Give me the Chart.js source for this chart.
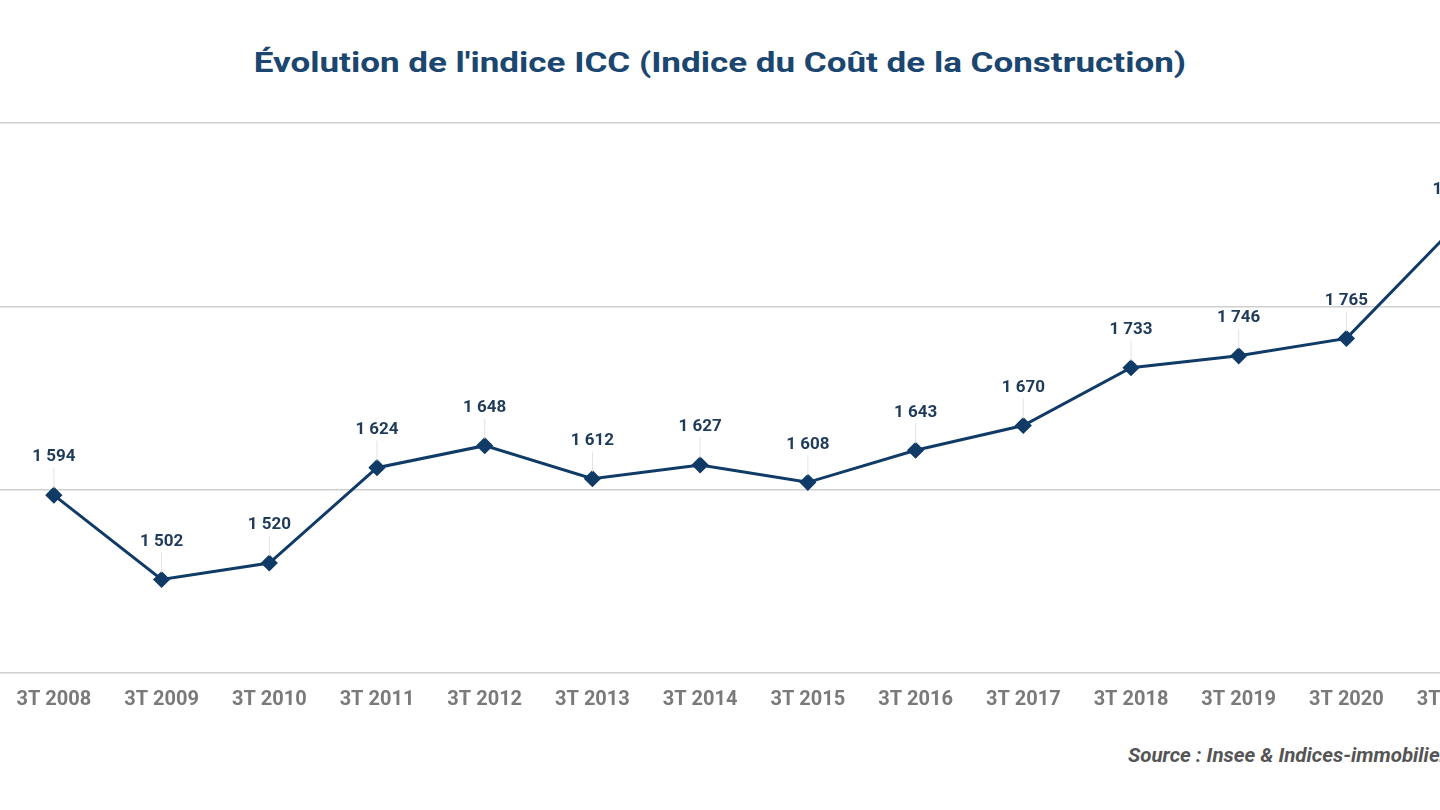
<!DOCTYPE html>
<html>
<head>
<meta charset="utf-8">
<script src="https://cdn.jsdelivr.net/npm/chart.js@4.4.0/dist/chart.umd.min.js"></script>
<style>
  html, body { margin: 0; padding: 0; background: #fff; overflow: hidden; width: 1440px; height: 810px; }
  #titlebox { position: absolute; left: 0; width: 1440px; top: 46px; text-align: center; }
  #title {
    display: inline-block; transform: scaleX(1.25); transform-origin: center;
    font: bold 28px Roboto, sans-serif; color: #1b4670; white-space: nowrap;
  }
  #source {
    position: absolute; left: 1128px; top: 743px; white-space: nowrap;
    font: italic bold 20.5px Roboto, sans-serif; color: #555;
  }
  #chart { position: absolute; left: 0; top: 0; }
</style>
</head>
<body>
<div id="titlebox"><span id="title">Évolution de l'indice ICC (Indice du Coût de la Construction)</span></div>
<canvas id="chart" width="1508" height="713"></canvas>
<div id="source">Source : Insee &amp; Indices-immobiliers.fr</div>
<script>
const quarters = ['3T 2008', '3T 2009', '3T 2010', '3T 2011', '3T 2012', '3T 2013', '3T 2014',
  '3T 2015', '3T 2016', '3T 2017', '3T 2018', '3T 2019', '3T 2020', '3T 2021'];
const iccValues = [1594, 1502, 1520, 1624, 1648, 1612, 1627, 1608, 1643, 1670, 1733, 1746, 1765, 1886];
const yTicks = [1400, 1600, 1800, 2000];

const navy = '#103b66';

function formatValue (v) {
  return String(v).replace(/\B(?=(\d{3})+(?!\d))/g, ' ');
}

/* value labels with a thin leader line */
const valueLabels = {
  id: 'valueLabels',
  afterDatasetsDraw (chart) {
    const ctx = chart.ctx;
    const meta = chart.getDatasetMeta(0);
    ctx.save();
    meta.data.forEach(function (pt, i) {
      const labelY = pt.y - 38;
      ctx.strokeStyle = '#e2e2e2';
      ctx.lineWidth = 1;
      ctx.beginPath();
      ctx.moveTo(pt.x, labelY + 11);
      ctx.lineTo(pt.x, pt.y - 7);
      ctx.stroke();
      ctx.fillStyle = '#1f3b5a';
      ctx.font = 'bold 17px Roboto, sans-serif';
      ctx.textAlign = 'center';
      ctx.textBaseline = 'middle';
      ctx.fillText(formatValue(iccValues[i]), pt.x, labelY);
    });
    ctx.restore();
  }
};

new Chart(document.getElementById('chart'), {
  type: 'line',
  data: {
    labels: quarters,
    datasets: [{
      data: iccValues,
      borderColor: navy,
      backgroundColor: navy,
      borderWidth: 3,
      pointStyle: 'rectRot',
      pointRadius: 6.5,
      pointBackgroundColor: navy,
      pointBorderColor: navy,
      tension: 0
    }]
  },
  options: {
    responsive: false,
    animation: false,
    layout: { autoPadding: false, padding: { top: 123, left: 0, right: 0, bottom: 0 } },
    plugins: { legend: { display: false }, tooltip: { enabled: false } },
    scales: {
      x: {
        offset: true,
        grid: { display: false, drawTicks: false },
        border: { display: false },
        afterFit: function (axis) { axis.height = 40; },
        ticks: {
          color: '#7a7a7a',
          font: { family: 'Roboto', size: 20, weight: 'bold' },
          padding: 15,
          maxRotation: 0,
          autoSkip: false
        }
      },
      y: {
        min: yTicks[0],
        max: yTicks[yTicks.length - 1],
        afterBuildTicks: function (axis) {
          axis.ticks = yTicks.map(function (v) { return { value: v }; });
        },
        afterFit: function (axis) { axis.width = 0; },
        grid: { color: '#cfcfcf', lineWidth: 1.5, drawTicks: false },
        border: { display: false },
        ticks: { display: false }
      }
    }
  },
  plugins: [valueLabels]
});
</script>
</body>
</html>
